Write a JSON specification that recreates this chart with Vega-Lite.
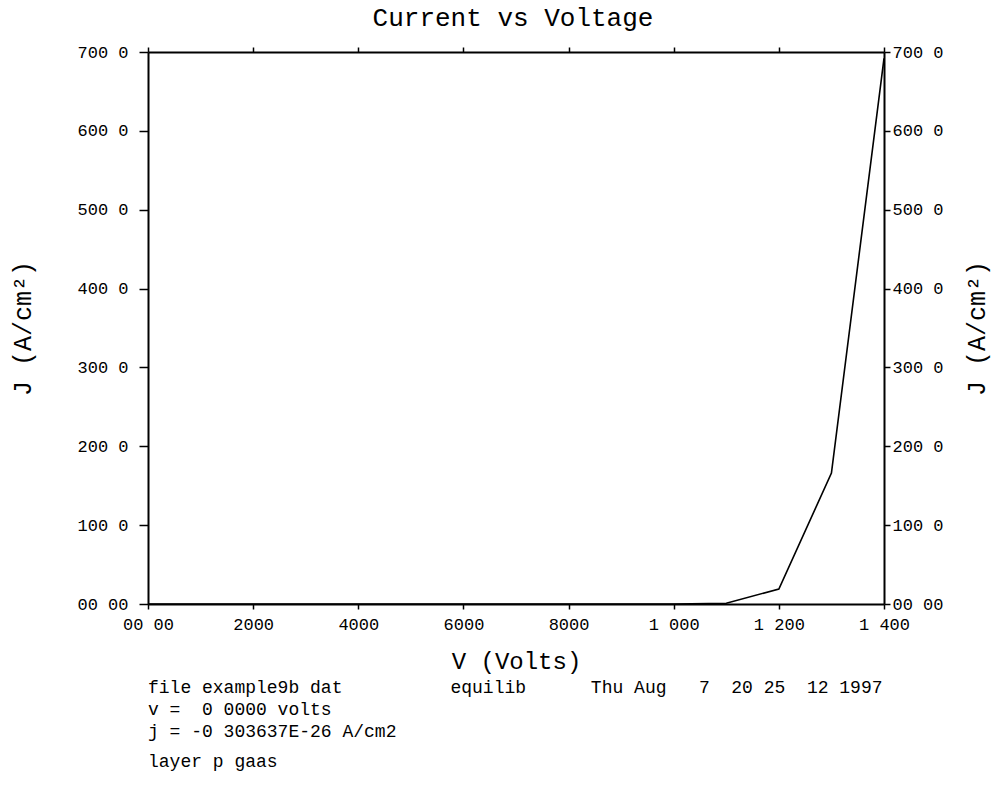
{
  "$schema": "https://vega.github.io/schema/vega-lite/v6.json",
  "background": "white",
  "padding": {"left": 10, "top": 5, "right": 25, "bottom": 0},
  "title": {
    "text": "Current vs Voltage",
    "font": "Liberation Mono",
    "fontSize": 26,
    "fontWeight": "normal",
    "color": "black",
    "anchor": "middle",
    "offset": 12,
    "dx": 13
  },
  "vconcat": [
    {
      "width": 736,
      "height": 552,
      "title": {
        "text": [
          "file example9b dat\u00a0\u00a0\u00a0\u00a0\u00a0\u00a0\u00a0\u00a0\u00a0\u00a0equilib\u00a0\u00a0\u00a0\u00a0\u00a0\u00a0Thu Aug\u00a0\u00a0\u00a07\u00a0\u00a020 25\u00a0\u00a012 1997",
          "v =\u00a0\u00a00 0000 volts",
          "j = -0 303637E-26 A/cm2"
        ],
        "subtitle": "layer p gaas",
        "orient": "bottom",
        "anchor": "start",
        "frame": "group",
        "font": "Liberation Mono",
        "fontSize": 18,
        "fontWeight": "normal",
        "color": "black",
        "lineHeight": 22,
        "offset": 6,
        "subtitleFont": "Liberation Mono",
        "subtitleFontSize": 18,
        "subtitleColor": "black",
        "subtitlePadding": 12
      },
      "data": {
        "values": [
          {"V": 0.0, "J": 0},
          {"V": 0.1, "J": 0},
          {"V": 0.2, "J": 0},
          {"V": 0.3, "J": 0},
          {"V": 0.4, "J": 0},
          {"V": 0.5, "J": 0},
          {"V": 0.6, "J": 0},
          {"V": 0.7, "J": 0},
          {"V": 0.8, "J": 0},
          {"V": 0.9, "J": 0},
          {"V": 1.0, "J": 0},
          {"V": 1.1, "J": 1},
          {"V": 1.2, "J": 19},
          {"V": 1.3, "J": 166},
          {"V": 1.4, "J": 692}
        ]
      },
      "layer": [
        {
          "mark": {"type": "line", "color": "black", "strokeWidth": 1.6},
          "encoding": {
            "x": {
              "field": "V",
              "type": "quantitative",
              "scale": {"domain": [0, 1.4], "nice": false, "zero": false},
              "axis": {
                "orient": "bottom",
                "values": [0, 0.2, 0.4, 0.6, 0.8, 1.0, 1.2, 1.4],
                "labelExpr": "['00 00','2000','4000','6000','8000','1 000','1 200','1 400'][round(datum.value*5)]",
                "tickSize": 5,
                "labelPadding": 7,
                "labelFontSize": 17,
                "labelFlush": false,
                "labelOverlap": false,
                "title": "V (Volts)",
                "titleFontSize": 24,
                "titlePadding": 17
              }
            },
            "y": {
              "field": "J",
              "type": "quantitative",
              "scale": {"domain": [0, 700], "nice": false},
              "axis": {
                "orient": "left",
                "values": [0, 100, 200, 300, 400, 500, 600, 700],
                "labelExpr": "['00 00','100 0','200 0','300 0','400 0','500 0','600 0','700 0'][round(datum.value/100)]",
                "tickSize": 9,
                "labelPadding": 11,
                "labelFontSize": 17,
                "labelFlush": false,
                "labelOverlap": false,
                "title": "J (A/cm²)",
                "titleFontSize": 25,
                "titlePadding": 41
              }
            }
          }
        },
        {
          "mark": {"type": "line", "opacity": 0},
          "encoding": {
            "x": {
              "field": "V",
              "type": "quantitative",
              "scale": {"domain": [0, 1.4], "nice": false, "zero": false},
              "axis": {
                "orient": "top",
                "values": [0, 0.2, 0.4, 0.6, 0.8, 1.0, 1.2, 1.4],
                "labels": false,
                "tickSize": 5,
                "title": null
              }
            },
            "y": {
              "field": "J",
              "type": "quantitative",
              "scale": {"domain": [0, 700], "nice": false},
              "axis": {
                "orient": "right",
                "values": [0, 100, 200, 300, 400, 500, 600, 700],
                "labelExpr": "['00 00','100 0','200 0','300 0','400 0','500 0','600 0','700 0'][round(datum.value/100)]",
                "tickSize": 6,
                "labelPadding": 2,
                "labelFontSize": 17,
                "labelFlush": false,
                "labelOverlap": false,
                "title": "J (A/cm²)",
                "titleFontSize": 25,
                "titleAngle": 270,
                "titleBaseline": "top",
                "titlePadding": 21
              }
            }
          }
        }
      ],
      "resolve": {"scale": {"x": "independent", "y": "independent"}}
    }
  ],
  "config": {
    "view": {"stroke": null},
    "axis": {
      "grid": false,
      "domainColor": "black",
      "domainWidth": 2,
      "tickColor": "black",
      "tickWidth": 1.5,
      "labelColor": "black",
      "labelFont": "Liberation Mono",
      "titleFont": "Liberation Mono",
      "titleFontWeight": "normal",
      "titleColor": "black"
    }
  }
}
